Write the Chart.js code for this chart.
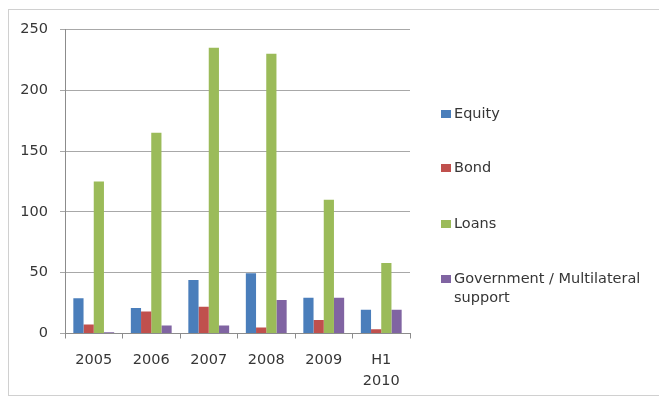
<!DOCTYPE html>
<html>
<head>
<meta charset="utf-8">
<script src="https://cdn.jsdelivr.net/npm/chart.js@4/dist/chart.umd.min.js"></script>
<style>
  html, body { margin: 0; padding: 0; background: #fff; overflow: hidden; }
  #wrap { position: relative; width: 659px; height: 400px; }
  #frame { position: absolute; left: 8px; top: 9px; width: 700px; height: 387px; border: 1px solid #d0d0d0; box-sizing: border-box; }
  canvas { position: absolute; left: 0; top: 0; }
</style>
</head>
<body>
<div id="wrap">
  <div id="frame"></div>
  <canvas id="c" width="659" height="400"></canvas>
</div>
<script>
const categories = ['2005', '2006', '2007', '2008', '2009', ['H1', '2010']];
const seriesNames = ['Equity', 'Bond', 'Loans', 'Government / Multilateral support'];
const equity = [29, 21, 44, 49.5, 29.5, 19.5];
const bond = [7.5, 18, 22, 5, 11, 3.5];
const loans = [125, 165, 235, 230, 110, 58];
const government = [1, 6.5, 6.5, 27.5, 29.5, 19.5];
const yTicks = [0, 50, 100, 150, 200, 250];
const colors = ['#4a7ebb', '#c0504d', '#9bbb59', '#8064a2'];

const FONT = 'DejaVu Sans';
const TEXT = '#363636';

const legendPlugin = {
  id: 'sideLegend',
  afterDraw(chart) {
    const ctx = chart.ctx;
    const ys = [114, 168, 224, 279];
    ctx.save();
    ctx.font = '14.5px "' + FONT + '"';
    ctx.textBaseline = 'middle';
    ctx.textAlign = 'left';
    chart.data.datasets.forEach((ds, i) => {
      ctx.fillStyle = ds.backgroundColor;
      ctx.fillRect(441, ys[i] - 4, 10, 8);
      ctx.fillStyle = TEXT;
      const lines = ds.legendLines || [ds.label];
      lines.forEach((t, j) => ctx.fillText(t, 454, ys[i] + j * 19));
    });
    ctx.restore();
  }
};

new Chart(document.getElementById('c'), {
  type: 'bar',
  data: {
    labels: categories,
    datasets: [
      { label: seriesNames[0], data: equity, backgroundColor: colors[0] },
      { label: seriesNames[1], data: bond, backgroundColor: colors[1] },
      { label: seriesNames[2], data: loans, backgroundColor: colors[2] },
      { label: seriesNames[3], data: government, backgroundColor: colors[3], legendLines: ['Government / Multilateral', 'support'] }
    ]
  },
  options: {
    responsive: false,
    devicePixelRatio: 1,
    animation: false,
    layout: { padding: { top: 29.5, right: 249, left: 0, bottom: 0 } },
    datasets: { bar: { categoryPercentage: 0.71, barPercentage: 1.0 } },
    plugins: { legend: { display: false }, tooltip: { enabled: false } },
    scales: {
      x: {
        grid: { display: true, offset: true, drawOnChartArea: false, drawTicks: true, tickLength: 5, color: '#8c8c8c' },
        border: { display: true, color: '#8c8c8c' },
        ticks: { color: TEXT, font: { family: FONT, size: 14.5, lineHeight: 1.45 }, padding: 11, maxRotation: 0, autoSkip: false },
        afterFit(s) { s.height = 66.5; }
      },
      y: {
        min: 0, max: 250,
        afterBuildTicks(s) { s.ticks = yTicks.map(v => ({ value: v })); },
        grid: { color: '#a8a8a8', tickLength: 5, drawTicks: true },
        border: { display: true, color: '#8c8c8c' },
        ticks: { color: TEXT, font: { family: FONT, size: 14.5 }, padding: 12 },
        afterFit(s) { s.width = 65; }
      }
    }
  },
  plugins: [legendPlugin]
});
</script>
</body>
</html>
